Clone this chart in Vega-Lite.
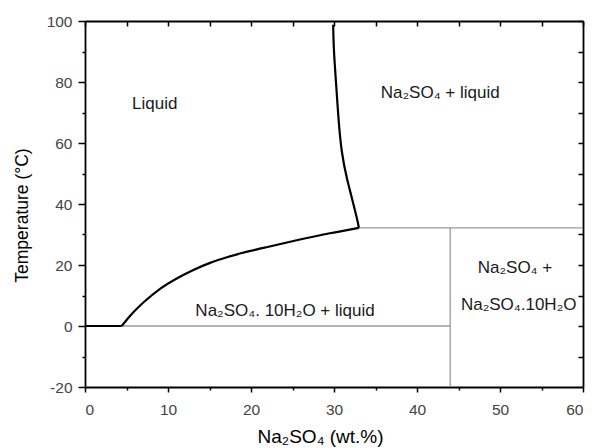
{
  "$schema": "https://vega.github.io/schema/vega-lite/v6.json",
  "width": 498,
  "height": 366,
  "autosize": {"type": "none"},
  "padding": {"left": 85, "top": 21, "right": 15, "bottom": 61},
  "background": "white",
  "config": {"view": {"stroke": null}, "font": "Liberation Sans"},
  "datasets": {
    "grey": [
      {"seg": "g1", "x": 4.42, "y": 0, "o": 0},
      {"seg": "g1", "x": 44.0, "y": 0, "o": 1},
      {"seg": "g2", "x": 33.0, "y": 32.2, "o": 0},
      {"seg": "g2", "x": 60, "y": 32.2, "o": 1},
      {"seg": "g3", "x": 44.0, "y": -20, "o": 0},
      {"seg": "g3", "x": 44.0, "y": 32.2, "o": 1}
    ],
    "flat": [
      {"x": 0, "y": 0, "o": 0},
      {"x": 4.42, "y": 0, "o": 1}
    ],
    "lower": [
      {"x": 4.42, "y": 0, "o": 0},
      {"x": 5.42, "y": 3.3, "o": 1},
      {"x": 7.03, "y": 7.7, "o": 2},
      {"x": 9.04, "y": 12.2, "o": 3},
      {"x": 11.05, "y": 15.6, "o": 4},
      {"x": 13.06, "y": 18.4, "o": 5},
      {"x": 15.07, "y": 20.7, "o": 6},
      {"x": 17.3, "y": 22.7, "o": 7},
      {"x": 19.0, "y": 24.0, "o": 8},
      {"x": 21.5, "y": 25.6, "o": 9},
      {"x": 25.5, "y": 28.1, "o": 10},
      {"x": 29.5, "y": 30.4, "o": 11},
      {"x": 33.0, "y": 32.2, "o": 12}
    ],
    "upper": [
      {"x": 33.0, "y": 32.2, "o": 0},
      {"x": 32.75, "y": 35.4, "o": 1},
      {"x": 32.15, "y": 42.0, "o": 2},
      {"x": 31.55, "y": 48.5, "o": 3},
      {"x": 30.94, "y": 57.3, "o": 4},
      {"x": 30.54, "y": 68.2, "o": 5},
      {"x": 30.26, "y": 79.1, "o": 6},
      {"x": 30.0, "y": 90.1, "o": 7},
      {"x": 29.9, "y": 98.8, "o": 8}
    ],
    "labels": [
      {"x": 8.4, "y": 72.8, "t": "Liquid"},
      {"x": 42.8, "y": 76.3, "t": "Na₂SO₄ + liquid"},
      {"x": 24.1, "y": 5.0, "t": "Na₂SO₄. 10H₂O + liquid"},
      {"x": 51.8, "y": 18.9, "t": "Na₂SO₄ +"},
      {"x": 52.25, "y": 6.9, "t": "Na₂SO₄.10H₂O"}
    ]
  },
  "layer": [
    {
      "data": {"name": "grey"},
      "mark": {"type": "line", "color": "#9a9a9a", "strokeWidth": 1.3},
      "encoding": {
        "x": {
          "field": "x", "type": "quantitative",
          "scale": {"domain": [0, 60], "nice": false, "zero": false},
          "axis": {
            "orient": "bottom", "values": [0, 10, 20, 30, 40, 50, 60],
            "grid": false, "domain": true, "domainColor": "black", "domainWidth": 1.8,
            "ticks": true, "tickSize": 5, "tickColor": "black", "tickWidth": 1.5,
            "labelFontSize": 15.5, "labelColor": "#444", "labelPadding": 10,
            "title": "Na₂SO₄ (wt.%)", "titleFontSize": 19, "titleFontWeight": "normal",
            "titleColor": "black", "titleX": 235, "titleY": 49, "titleBaseline": "middle", "titleAlign": "center"
          }
        },
        "y": {
          "field": "y", "type": "quantitative",
          "scale": {"domain": [-20, 100], "nice": false, "zero": false},
          "axis": {
            "orient": "left", "values": [-20, 0, 20, 40, 60, 80, 100],
            "labelExpr": "replace(datum.label, '−', '-')",
            "grid": false, "domain": true, "domainColor": "black", "domainWidth": 1.8,
            "ticks": true, "tickSize": 7, "tickColor": "black", "tickWidth": 1.5,
            "labelFontSize": 15.5, "labelColor": "#444", "labelPadding": 6,
            "title": "Temperature (°C)", "titleFontSize": 17.5, "titleFontWeight": "normal",
            "titleColor": "black", "titleX": -63, "titleY": 194, "titleBaseline": "middle", "titleAlign": "center", "titleAngle": 270
          }
        },
        "detail": {"field": "seg"},
        "order": {"field": "o"}
      }
    },
    {
      "data": {"name": "flat"},
      "mark": {"type": "line", "color": "black", "strokeWidth": 2.2},
      "encoding": {
        "x": {
          "field": "x", "type": "quantitative",
          "scale": {"domain": [0, 60], "nice": false, "zero": false},
          "axis": {
            "orient": "bottom", "values": [5, 15, 25, 35, 45, 55],
            "grid": false, "domain": false, "labels": false, "title": null,
            "ticks": true, "tickSize": 3, "tickColor": "black", "tickWidth": 1.5
          }
        },
        "y": {
          "field": "y", "type": "quantitative",
          "scale": {"domain": [-20, 100], "nice": false, "zero": false},
          "axis": {
            "orient": "left", "values": [-10, 10, 30, 50, 70, 90],
            "grid": false, "domain": false, "labels": false, "title": null,
            "ticks": true, "tickSize": 3, "tickColor": "black", "tickWidth": 1.5
          }
        },
        "order": {"field": "o"}
      }
    },
    {
      "data": {"name": "lower"},
      "mark": {"type": "line", "color": "black", "strokeWidth": 2.2, "interpolate": "monotone"},
      "encoding": {
        "x": {"field": "x", "type": "quantitative", "scale": {"domain": [0, 60], "nice": false, "zero": false}, "axis": null},
        "y": {"field": "y", "type": "quantitative", "scale": {"domain": [-20, 100], "nice": false, "zero": false}, "axis": null},
        "order": {"field": "o"}
      }
    },
    {
      "data": {"name": "upper"},
      "mark": {"type": "line", "color": "black", "strokeWidth": 2.2, "interpolate": "natural"},
      "encoding": {
        "x": {"field": "x", "type": "quantitative", "scale": {"domain": [0, 60], "nice": false, "zero": false}, "axis": null},
        "y": {"field": "y", "type": "quantitative", "scale": {"domain": [-20, 100], "nice": false, "zero": false}, "axis": null},
        "order": {"field": "o"}
      }
    },
    {
      "data": {"name": "labels"},
      "mark": {"type": "text", "fontSize": 17, "color": "#1a1a1a", "align": "center", "baseline": "middle"},
      "encoding": {
        "x": {
          "field": "x", "type": "quantitative",
          "scale": {"domain": [0, 60], "nice": false, "zero": false},
          "axis": {
            "orient": "top", "values": [0, 5, 10, 15, 20, 25, 30, 35, 40, 45, 50, 55, 60],
            "grid": false, "domain": true, "domainColor": "black", "domainWidth": 1.8,
            "labels": false, "title": null,
            "ticks": true, "tickSize": -5, "tickColor": "black", "tickWidth": 1.5
          }
        },
        "y": {
          "field": "y", "type": "quantitative",
          "scale": {"domain": [-20, 100], "nice": false, "zero": false},
          "axis": {
            "orient": "right", "values": [-10, 0, 10, 20, 30, 40, 50, 60, 70, 80, 90, 100],
            "grid": false, "domain": true, "domainColor": "black", "domainWidth": 1.8,
            "labels": false, "title": null,
            "ticks": true, "tickSize": -5, "tickColor": "black", "tickWidth": 1.5
          }
        },
        "text": {"field": "t"}
      }
    }
  ],
  "resolve": {"axis": {"x": "independent", "y": "independent"}}
}
